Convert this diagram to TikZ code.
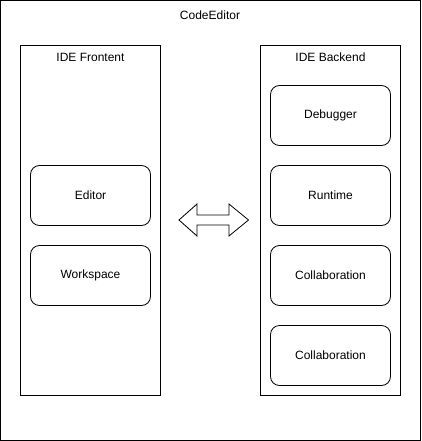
\documentclass[tikz,border=0pt]{standalone}
\usepackage{fontspec}
\setmainfont{Liberation Sans}
\usetikzlibrary{positioning}

\begin{document}
\begin{tikzpicture}[x=1pt,y=-1pt,line width=0.8pt,
    font=\fontsize{12}{14}\selectfont,
    group/.style={draw,rectangle,outer sep=0pt,minimum width=140pt,minimum height=350pt,anchor=north west},
    part/.style={draw,rounded corners=9pt,outer sep=0pt,minimum width=120pt,minimum height=60pt}]
                        \useasboundingbox (0,0) rectangle (421,441);
                        \draw (0.5,0.5) rectangle (420.5,440.5);
                        \node (title) at (210,15) {CodeEditor};
                        % frontend
                        \node[group] (front) at (20.5,45.5) {};
                        \node[below=4pt of front.north] {IDE Frontent};
                        \node[part] (editor) at (90.5,195.5) {Editor};
                        \node[part,below=20pt of editor] (workspace) {Workspace};
                        % backend
                        \node[group] (back) at (260.5,45.5) {};
                        \node[below=4pt of back.north] {IDE Backend};
                        \node[part] (debugger) at (330.5,115.5) {Debugger};
                        \node[part,below=20pt of debugger] (runtime) {Runtime};
                        \node[part,below=20pt of runtime] (collab) {Collaboration};
                        \node[part,below=20pt of collab] (collabb) {Collaboration};
                        % two-way arrow
                        \coordinate (lt) at (179,220);
                        \coordinate (rt) at (248.5,220);
                        \draw (lt) -- (197,204) -- (197,215) -- (229,215) -- (229,204)
                            -- (rt) -- (229,236) -- (229,225) -- (197,225) -- (197,236) -- cycle;
                    \end{tikzpicture}
\end{document}
